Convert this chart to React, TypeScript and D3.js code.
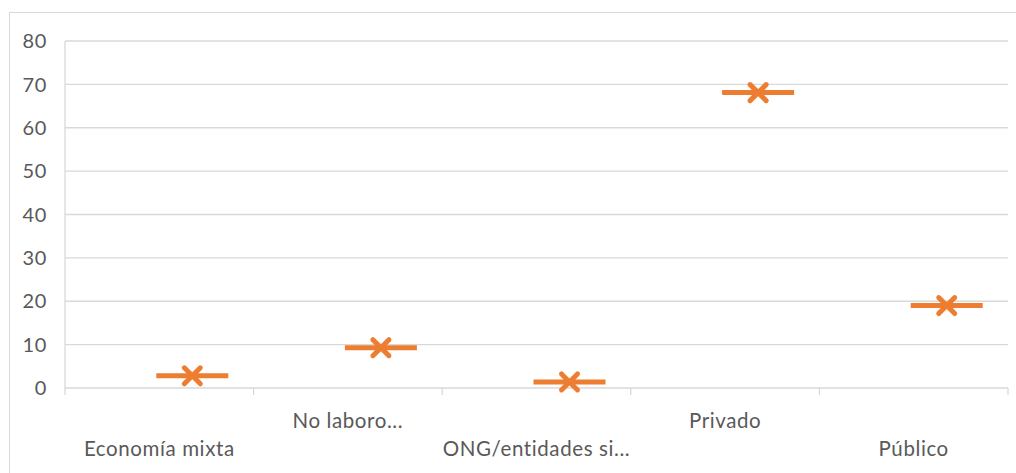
import React from "react";
import * as d3 from "d3";

const categories = ["Economía mixta", "No laboro...", "ONG/entidades si...", "Privado", "Público"];
const values = [2.8, 9.3, 1.4, 68.1, 19];
const yTicks = [0, 10, 20, 30, 40, 50, 60, 70, 80];

const W = 1016;
const H = 473;
const margin = { left: 65, right: 8, top: 41, bottom: 85 };

export default function App() {
  const x = d3
    .scaleBand<string>()
    .domain(categories)
    .range([margin.left, W - margin.right])
    .padding(0);
  const y = d3.scaleLinear().domain([0, 80]).range([H - margin.bottom, margin.top]);
  const font = "Lato, 'Open Sans', sans-serif";
  const grey = "#595959";
  const orange = "#ED7D31";
  const bw = x.bandwidth();
  const y0 = y(0);
  const ticksX = categories.map((c) => x(c)!).concat([x(categories[categories.length - 1])! + bw]);
  const dashHalf = 36;
  const xs = 8;

  return (
    <svg
      width={W}
      height={H}
      style={{ position: "absolute", left: 0, top: 0, background: "#fff" }}
      fontFamily={font}
    >
      <rect x={9.5} y={12.5} width={1020} height={480} fill="#fff" stroke="#d9d9d9" strokeWidth={1} />
      {yTicks.map((t) => (
        <g key={t}>
          <line x1={margin.left} x2={W - margin.right} y1={y(t)} y2={y(t)} stroke="#d9d9d9" strokeWidth={1.3} />
          <text x={47} y={y(t)} dy="0.36em" textAnchor="end" fontSize={20} fill={grey} letterSpacing={0.6}>
            {t}
          </text>
        </g>
      ))}
      <line x1={margin.left} x2={margin.left} y1={margin.top} y2={y0} stroke="#d9d9d9" strokeWidth={1.3} />
      {ticksX.map((tx, i) => (
        <line key={i} x1={tx} x2={tx} y1={y0} y2={y0 + 7} stroke="#d9d9d9" strokeWidth={1.3} />
      ))}
      {categories.map((c, i) => (
        <text
          key={c}
          x={x(c)! + bw / 2}
          y={i % 2 === 0 ? 456 : 428}
          textAnchor="middle"
          fontSize={20.5}
          fill={grey}
          letterSpacing={0.6}
        >
          {c}
        </text>
      ))}
      {categories.map((c, i) => {
        const cx = x(c)! + bw * 0.675;
        const cy = y(values[i]);
        return (
          <g key={c} stroke={orange} strokeWidth={5} strokeLinecap="round">
            <line x1={cx - dashHalf} x2={cx + dashHalf} y1={cy} y2={cy} strokeLinecap="butt" />
            <line x1={cx - xs} x2={cx + xs} y1={cy - xs} y2={cy + xs} />
            <line x1={cx - xs} x2={cx + xs} y1={cy + xs} y2={cy - xs} />
          </g>
        );
      })}
    </svg>
  );
}
